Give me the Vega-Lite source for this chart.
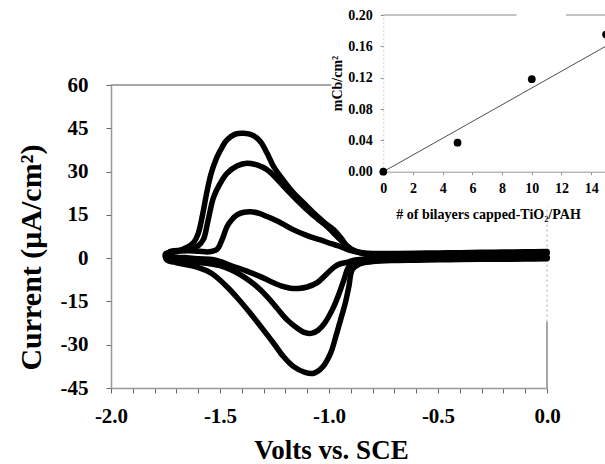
{
  "$schema": "https://vega.github.io/schema/vega-lite/v6.json",
  "autosize": "none",
  "width": 436,
  "height": 303,
  "padding": {"left": 111, "top": 85, "right": 58, "bottom": 76},
  "background": "white",
  "config": {
    "view": {"stroke": null},
    "font": "Liberation Serif",
    "axis": {"labelFont": "Liberation Serif", "titleFont": "Liberation Serif", "labelFontWeight": 700, "titleFontWeight": 700, "labelColor": "black", "titleColor": "black", "grid": false, "labelOverlap": false, "labelFlush": false}
  },
  "datasets": {
    "cv": [
      {"l":"c","s":1,"v":0,"i":-0.2},{"l":"c","s":2,"v":-0.1,"i":-0.3},{"l":"c","s":3,"v":-0.2,"i":-0.4},{"l":"c","s":4,"v":-0.3,"i":-0.4},{"l":"c","s":5,"v":-0.4,"i":-0.5},{"l":"c","s":6,"v":-0.5,"i":-0.6},{"l":"c","s":7,"v":-0.6,"i":-0.7},{"l":"c","s":8,"v":-0.7,"i":-0.8},{"l":"c","s":9,"v":-0.8,"i":-1.2},{"l":"c","s":10,"v":-0.86,"i":-2.0},
      {"l":"c","s":11,"v":-0.893,"i":-4.0},{"l":"c","s":12,"v":-0.909,"i":-9.9},{"l":"c","s":13,"v":-0.925,"i":-15.5},{"l":"c","s":14,"v":-0.947,"i":-21.4},{"l":"c","s":15,"v":-0.97,"i":-27.5},{"l":"c","s":16,"v":-0.993,"i":-33.0},{"l":"c","s":17,"v":-1.03,"i":-37.8},{"l":"c","s":18,"v":-1.07,"i":-39.9},{"l":"c","s":19,"v":-1.11,"i":-39.6},{"l":"c","s":20,"v":-1.162,"i":-37.6},{"l":"c","s":21,"v":-1.21,"i":-34.0},{"l":"c","s":22,"v":-1.254,"i":-29.5},{"l":"c","s":23,"v":-1.31,"i":-24.0},{"l":"c","s":24,"v":-1.361,"i":-19.1},{"l":"c","s":25,"v":-1.42,"i":-13.8},{"l":"c","s":26,"v":-1.468,"i":-9.9},{"l":"c","s":27,"v":-1.52,"i":-6.3},{"l":"c","s":28,"v":-1.56,"i":-4.4},{"l":"c","s":29,"v":-1.61,"i":-3.0},{"l":"c","s":30,"v":-1.652,"i":-2.3},{"l":"c","s":31,"v":-1.70,"i":-1.6},{"l":"c","s":32,"v":-1.745,"i":-0.5},
      {"l":"c","s":33,"v":-1.75,"i":1.5},{"l":"c","s":34,"v":-1.70,"i":2.3},{"l":"c","s":35,"v":-1.65,"i":3.8},{"l":"c","s":36,"v":-1.62,"i":5.5},{"l":"c","s":37,"v":-1.60,"i":8.5},{"l":"c","s":38,"v":-1.58,"i":15.0},{"l":"c","s":39,"v":-1.56,"i":23.0},{"l":"c","s":40,"v":-1.54,"i":29.5},{"l":"c","s":41,"v":-1.514,"i":35.0},{"l":"c","s":42,"v":-1.49,"i":38.5},{"l":"c","s":43,"v":-1.468,"i":41.0},{"l":"c","s":44,"v":-1.43,"i":43.0},{"l":"c","s":45,"v":-1.392,"i":43.3},{"l":"c","s":46,"v":-1.35,"i":42.6},{"l":"c","s":47,"v":-1.315,"i":40.4},{"l":"c","s":48,"v":-1.285,"i":36.5},{"l":"c","s":49,"v":-1.254,"i":31.7},{"l":"c","s":50,"v":-1.21,"i":27.0},{"l":"c","s":51,"v":-1.162,"i":22.5},{"l":"c","s":52,"v":-1.115,"i":19.0},{"l":"c","s":53,"v":-1.07,"i":15.6},{"l":"c","s":54,"v":-1.025,"i":12.6},{"l":"c","s":55,"v":-0.978,"i":9.8},{"l":"c","s":56,"v":-0.945,"i":7.0},{"l":"c","s":57,"v":-0.916,"i":4.0},{"l":"c","s":58,"v":-0.88,"i":2.4},{"l":"c","s":59,"v":-0.84,"i":1.8},
      {"l":"c","s":60,"v":-0.8,"i":1.6},{"l":"c","s":61,"v":-0.7,"i":1.6},{"l":"c","s":62,"v":-0.6,"i":1.7},{"l":"c","s":63,"v":-0.5,"i":1.8},{"l":"c","s":64,"v":-0.4,"i":1.9},{"l":"c","s":65,"v":-0.3,"i":2.0},{"l":"c","s":66,"v":-0.2,"i":2.1},{"l":"c","s":67,"v":-0.1,"i":2.2},{"l":"c","s":68,"v":0,"i":2.3},

      {"l":"b","s":1,"v":0,"i":0.1},{"l":"b","s":2,"v":-0.1,"i":0},{"l":"b","s":3,"v":-0.2,"i":-0.1},{"l":"b","s":4,"v":-0.3,"i":-0.1},{"l":"b","s":5,"v":-0.4,"i":-0.2},{"l":"b","s":6,"v":-0.5,"i":-0.3},{"l":"b","s":7,"v":-0.6,"i":-0.3},{"l":"b","s":8,"v":-0.7,"i":-0.4},{"l":"b","s":9,"v":-0.8,"i":-0.6},{"l":"b","s":10,"v":-0.85,"i":-0.9},
      {"l":"b","s":11,"v":-0.88,"i":-1.5},{"l":"b","s":12,"v":-0.909,"i":-3.0},{"l":"b","s":13,"v":-0.932,"i":-7.6},{"l":"b","s":14,"v":-0.955,"i":-12.5},{"l":"b","s":15,"v":-0.978,"i":-16.8},{"l":"b","s":16,"v":-1.02,"i":-22.5},{"l":"b","s":17,"v":-1.05,"i":-25.0},{"l":"b","s":18,"v":-1.077,"i":-26.0},{"l":"b","s":19,"v":-1.11,"i":-25.8},{"l":"b","s":20,"v":-1.15,"i":-24.0},{"l":"b","s":21,"v":-1.192,"i":-21.4},{"l":"b","s":22,"v":-1.24,"i":-17.2},{"l":"b","s":23,"v":-1.284,"i":-13.3},{"l":"b","s":24,"v":-1.34,"i":-9.3},{"l":"b","s":25,"v":-1.392,"i":-6.4},{"l":"b","s":26,"v":-1.45,"i":-4.0},{"l":"b","s":27,"v":-1.5,"i":-2.6},{"l":"b","s":28,"v":-1.56,"i":-1.8},{"l":"b","s":29,"v":-1.62,"i":-1.2},{"l":"b","s":30,"v":-1.68,"i":-0.6},{"l":"b","s":31,"v":-1.735,"i":0.0},
      {"l":"b","s":32,"v":-1.74,"i":1.8},{"l":"b","s":33,"v":-1.69,"i":2.4},{"l":"b","s":34,"v":-1.64,"i":3.0},{"l":"b","s":35,"v":-1.60,"i":4.3},{"l":"b","s":36,"v":-1.576,"i":6.5},{"l":"b","s":37,"v":-1.555,"i":13.0},{"l":"b","s":38,"v":-1.53,"i":21.0},{"l":"b","s":39,"v":-1.50,"i":25.8},{"l":"b","s":40,"v":-1.468,"i":29.4},{"l":"b","s":41,"v":-1.42,"i":32.0},{"l":"b","s":42,"v":-1.376,"i":32.9},{"l":"b","s":43,"v":-1.33,"i":32.3},{"l":"b","s":44,"v":-1.284,"i":30.6},{"l":"b","s":45,"v":-1.24,"i":27.5},{"l":"b","s":46,"v":-1.192,"i":23.6},{"l":"b","s":47,"v":-1.145,"i":20.0},{"l":"b","s":48,"v":-1.1,"i":16.7},{"l":"b","s":49,"v":-1.055,"i":13.8},{"l":"b","s":50,"v":-1.008,"i":10.9},{"l":"b","s":51,"v":-0.97,"i":8.0},{"l":"b","s":52,"v":-0.932,"i":5.2},{"l":"b","s":53,"v":-0.89,"i":2.8},{"l":"b","s":54,"v":-0.84,"i":1.6},
      {"l":"b","s":55,"v":-0.8,"i":1.2},{"l":"b","s":56,"v":-0.7,"i":1.2},{"l":"b","s":57,"v":-0.6,"i":1.3},{"l":"b","s":58,"v":-0.5,"i":1.4},{"l":"b","s":59,"v":-0.4,"i":1.5},{"l":"b","s":60,"v":-0.3,"i":1.6},{"l":"b","s":61,"v":-0.2,"i":1.7},{"l":"b","s":62,"v":-0.1,"i":1.8},{"l":"b","s":63,"v":0,"i":1.9},

      {"l":"a","s":1,"v":0,"i":0.4},{"l":"a","s":2,"v":-0.1,"i":0.3},{"l":"a","s":3,"v":-0.2,"i":0.2},{"l":"a","s":4,"v":-0.3,"i":0.2},{"l":"a","s":5,"v":-0.4,"i":0.1},{"l":"a","s":6,"v":-0.5,"i":0},{"l":"a","s":7,"v":-0.6,"i":0},{"l":"a","s":8,"v":-0.7,"i":-0.1},{"l":"a","s":9,"v":-0.8,"i":-0.2},{"l":"a","s":10,"v":-0.85,"i":-0.4},
      {"l":"a","s":11,"v":-0.88,"i":-0.6},{"l":"a","s":12,"v":-0.92,"i":-1.5},{"l":"a","s":13,"v":-0.95,"i":-2.0},{"l":"a","s":14,"v":-0.978,"i":-3.2},{"l":"a","s":15,"v":-1.015,"i":-5.8},{"l":"a","s":16,"v":-1.054,"i":-8.5},{"l":"a","s":17,"v":-1.10,"i":-10.0},{"l":"a","s":18,"v":-1.14,"i":-10.5},{"l":"a","s":19,"v":-1.177,"i":-10.4},{"l":"a","s":20,"v":-1.22,"i":-9.6},{"l":"a","s":21,"v":-1.27,"i":-8.0},{"l":"a","s":22,"v":-1.315,"i":-6.4},{"l":"a","s":23,"v":-1.38,"i":-4.4},{"l":"a","s":24,"v":-1.438,"i":-2.9},{"l":"a","s":25,"v":-1.49,"i":-1.4},{"l":"a","s":26,"v":-1.53,"i":-0.5},{"l":"a","s":27,"v":-1.6,"i":-0.2},{"l":"a","s":28,"v":-1.66,"i":0.2},{"l":"a","s":29,"v":-1.72,"i":0.6},
      {"l":"a","s":30,"v":-1.73,"i":2.2},{"l":"a","s":31,"v":-1.66,"i":2.6},{"l":"a","s":32,"v":-1.6,"i":2.4},{"l":"a","s":33,"v":-1.55,"i":2.2},{"l":"a","s":34,"v":-1.514,"i":3.0},{"l":"a","s":35,"v":-1.49,"i":6.5},{"l":"a","s":36,"v":-1.468,"i":10.9},{"l":"a","s":37,"v":-1.445,"i":13.4},{"l":"a","s":38,"v":-1.422,"i":15.0},{"l":"a","s":39,"v":-1.39,"i":15.9},{"l":"a","s":40,"v":-1.361,"i":16.1},{"l":"a","s":41,"v":-1.32,"i":15.5},{"l":"a","s":42,"v":-1.284,"i":14.4},{"l":"a","s":43,"v":-1.22,"i":12.2},{"l":"a","s":44,"v":-1.162,"i":9.8},{"l":"a","s":45,"v":-1.10,"i":7.8},{"l":"a","s":46,"v":-1.039,"i":6.3},{"l":"a","s":47,"v":-0.99,"i":5.0},{"l":"a","s":48,"v":-0.947,"i":4.0},{"l":"a","s":49,"v":-0.90,"i":2.6},{"l":"a","s":50,"v":-0.85,"i":1.8},
      {"l":"a","s":51,"v":-0.8,"i":1.0},{"l":"a","s":52,"v":-0.7,"i":0.9},{"l":"a","s":53,"v":-0.6,"i":1.0},{"l":"a","s":54,"v":-0.5,"i":1.1},{"l":"a","s":55,"v":-0.4,"i":1.2},{"l":"a","s":56,"v":-0.3,"i":1.3},{"l":"a","s":57,"v":-0.2,"i":1.4},{"l":"a","s":58,"v":-0.1,"i":1.5},{"l":"a","s":59,"v":0,"i":1.6}
    ],
    "frame": [
      {"v": -2, "v2": -0.99, "i": 60, "i2": 60},
      {"v": 0, "v2": 0, "i": -45, "i2": -22}
    ],
    "framedot": [
      {"v": 0, "v2": 0, "i": -22, "i2": 18}
    ],
    "ins": [
      {"n": 0, "q": 0},
      {"n": 5, "q": 0.037},
      {"n": 10, "q": 0.118},
      {"n": 15, "q": 0.175}
    ],
    "fit": [
      {"n": 0, "q": 0},
      {"n": 16, "q": 0.171}
    ],
    "itop": [
      {"n": 0, "n2": 8.97, "q": 0.2},
      {"n": 12.3, "n2": 16, "q": 0.2}
    ]
  },
  "layer": [
    {
      "encoding": {
        "x": {"field": "v", "type": "quantitative",
          "scale": {"domain": [-2, 0], "nice": false, "zero": false},
          "axis": {"title": "Volts vs. SCE",
            "values": [-2,-1.9,-1.8,-1.7,-1.6,-1.5,-1.4,-1.3,-1.2,-1.1,-1,-0.9,-0.8,-0.7,-0.6,-0.5,-0.4,-0.3,-0.2,-0.1,0],
            "labelExpr": "round(datum.value*10)%5==0 ? (datum.value < -0.001 ? '-' : '') + format(abs(datum.value), '.1f') : ''",
            "tickSize": 5, "tickColor": "#666", "domainColor": "#999", "domainWidth": 1.5,
            "labelFont": "Liberation Serif", "labelFontSize": 21, "labelFontWeight": 700, "labelPadding": 12,
            "titleFontSize": 27, "titleX": 220, "titleY": 62, "titleBaseline": "middle", "titleAlign": "center"}},
        "y": {"field": "i", "type": "quantitative",
          "scale": {"domain": [-45, 60], "nice": false, "zero": false},
          "axis": {"title": "Current (μA/cm²)",
            "values": [-45,-30,-15,0,15,30,45,60],
            "labelExpr": "(datum.value < 0 ? '-' : '') + abs(datum.value)",
            "tickSize": 5, "tickColor": "#666", "domainColor": "#999", "domainWidth": 1.5,
            "labelFont": "Liberation Serif", "labelFontSize": 21, "labelFontWeight": 700, "labelPadding": 18,
            "titleFontSize": 30, "titleX": -80, "titleY": 172, "titleBaseline": "middle", "titleAlign": "center", "titleAngle": -90}}
      },
      "layer": [
        {
          "data": {"name": "frame"},
          "mark": {"type": "rule", "color": "#888", "strokeWidth": 1.5},
          "encoding": {"x2": {"field": "v2"}, "y2": {"field": "i2"}}
        },
        {
          "data": {"name": "framedot"},
          "mark": {"type": "rule", "color": "#aaa", "strokeWidth": 1, "strokeDash": [2, 3]},
          "encoding": {"x2": {"field": "v2"}, "y2": {"field": "i2"}}
        },
        {
          "data": {"name": "cv"},
          "mark": {"type": "line", "color": "black", "strokeWidth": 5.5, "interpolate": "catmull-rom", "strokeJoin": "round", "strokeCap": "round"},
          "encoding": {
            "detail": {"field": "l", "type": "nominal"},
            "order": {"field": "s", "type": "quantitative"}
          }
        }
      ]
    },
    {
      "encoding": {
        "x": {"field": "n", "type": "quantitative",
          "scale": {"domain": [0, 16], "range": [272.3, 509.9], "nice": false, "zero": false},
          "axis": {"orient": "bottom", "offset": -216.3, "title": "# of bilayers capped-TiO₂/PAH",
            "values": [0,2,4,6,8,10,12,14], "format": "d",
            "tickSize": 3, "tickColor": "#999", "domainColor": "#999", "domainWidth": 1,
            "labelFont": "Liberation Serif", "labelFontSize": 14, "labelFontWeight": 700, "labelPadding": 7,
            "titleFontSize": 14, "titleX": 377, "titleY": 43, "titleBaseline": "middle", "titleAlign": "center"}},
        "y": {"field": "q", "type": "quantitative",
          "scale": {"domain": [0, 0.2], "range": [86.7, -70], "nice": false, "zero": false},
          "axis": {"orient": "left", "offset": -272.3, "title": "mCb/cm²",
            "values": [0, 0.04, 0.08, 0.12, 0.16, 0.2], "format": ".2f",
            "tickSize": 3, "tickColor": "#888", "domainColor": "#ccc", "domainDash": [2, 2], "domainWidth": 1,
            "labelFont": "Liberation Serif", "labelFontSize": 14, "labelFontWeight": 700, "labelPadding": 8,
            "titleFontSize": 14, "titleX": -46, "titleY": -2, "titleBaseline": "middle", "titleAlign": "center", "titleAngle": -90}}
      },
      "layer": [
        {
          "data": {"name": "itop"},
          "mark": {"type": "rule", "color": "#888", "strokeWidth": 1.2},
          "encoding": {"x2": {"field": "n2"}}
        },
        {
          "data": {"name": "fit"},
          "mark": {"type": "line", "color": "#222", "strokeWidth": 0.8},
          "encoding": {}
        },
        {
          "data": {"name": "ins"},
          "mark": {"type": "point", "filled": true, "color": "black", "opacity": 1, "size": 60},
          "encoding": {}
        }
      ]
    }
  ],
  "resolve": {"scale": {"x": "independent", "y": "independent"}, "axis": {"x": "independent", "y": "independent"}}
}
